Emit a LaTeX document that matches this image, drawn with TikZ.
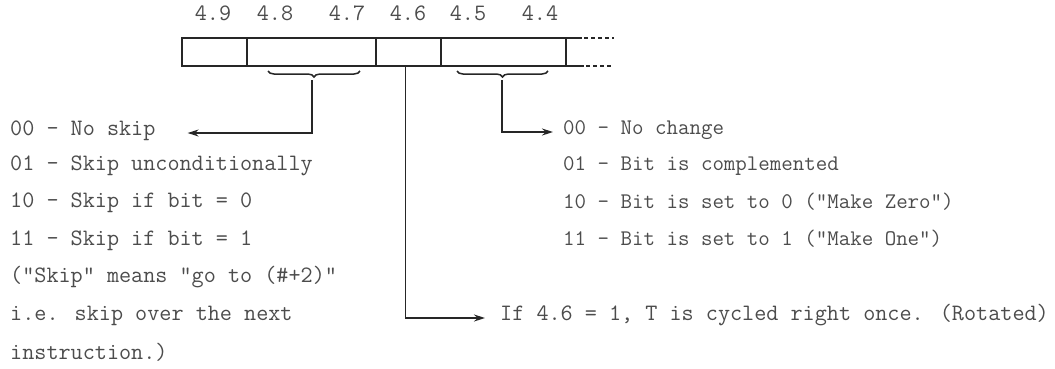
\documentclass[tikz,border=0pt]{standalone}
\usepackage{tikz}
\usetikzlibrary{arrows.meta, decorations.pathreplacing}

\begin{document}
\begin{tikzpicture}[
		x=1pt, y=-1pt,
		every node/.style={
				font=\ttfamily\fontsize{23.5}{28}\selectfont,
				text=black!70,
				text height=1.5ex, % Height above the baseline
				text depth=0.25ex  % Depth below the baseline
			},
		cell/.style={draw=black!85, line width=1.7pt, minimum height=28pt, inner sep=0pt, outer sep=0pt},
		reg/.style={draw=black!85, line width=1.7pt},
		note/.style={anchor=west, inner sep=2pt},
		narrow/.style={font=\ttfamily\fontsize{22.3}{26}\selectfont},
		arr/.style={->, >={Stealth[length=11pt, width=7pt]}, line width=1.5pt, draw=black!85},
		brace/.style={decorate, decoration={brace, mirror, amplitude=6pt}, line width=1.5pt, draw=black!85}
	]
	\useasboundingbox (0,0) rectangle (1055,368);

	% the register
	\node[cell, minimum width=65pt] (c9) at (214.5,52) {};
	\node[cell, minimum width=129pt] (c87) at (311.5,52) {};
	\node[cell, minimum width=65pt] (c6) at (408.5,52) {};
	\node[cell, minimum width=125pt] (c54) at (503.5,52) {};

	\draw[reg] (c54.north east) -- ([xshift=16pt]c54.north east);
	\draw[reg, dash pattern=on 4pt off 3pt] ([xshift=18pt]c54.north east) -- ([xshift=48pt]c54.north east);
	\draw[reg] (c54.south east) -- ([xshift=18pt]c54.south east);
	\draw[reg, dash pattern=on 4pt off 3pt] ([xshift=20pt]c54.south east) -- ([xshift=46pt]c54.south east);

	\node (b9) at (213,18) {4.9};
	\node (b8) at (275,18) {4.8};
	\node (b7) at (347,18) {4.7};
	\node (b6) at (408,18) {4.6};
	\node (b5) at (468,18) {4.5};
	\node (b4) at (540,18) {4.4};

	% braces under the fields
	\draw[brace] (268,71) -- (360,71);
	\draw[brace] (457,71) -- (548,71);
	\coordinate (skiptip) at (312,80);
	\coordinate (chgtip) at (502,80);

	% skip field
	\node[note] (s00) at (8,133) {00 - No skip};
	\node[note] (s01) at (8,168) {01 - Skip unconditionally};
	\node[note] (s10) at (8,205) {10 - Skip if bit = 0};
	\node[note] (s11) at (8,243) {11 - Skip if bit = 1};
	\node[note] (s1) at (8,280) {("Skip" means "go to (\#+2)"};
	\node[note] (s2) at (8,318) {i.e. skip over the next};
	\node[note] (s3) at (8,357) {instruction.)};

	% change field
	\node[note, narrow] (m00) at (561,132) {00 - No change};
	\node[note, narrow] (m01) at (561,168) {01 - Bit is complemented};
	\node[note, narrow] (m10) at (561,206) {10 - Bit is set to 0 ("Make Zero")};
	\node[note, narrow] (m11) at (561,243) {11 - Bit is set to 1 ("Make One")};

	% rotate bit
	\node[note] (rot) at (498,318) {If 4.6 = 1, T is cycled right once. (Rotated)};

	\draw[arr, shorten >=30pt] (skiptip) |- (s00.east);
	\draw[arr, shorten >=8pt] (chgtip) |- (m00.west);
	\draw[arr, shorten >=13pt] ([xshift=-3pt]c6.south) |- (rot.west);

\end{tikzpicture}
\end{document}
